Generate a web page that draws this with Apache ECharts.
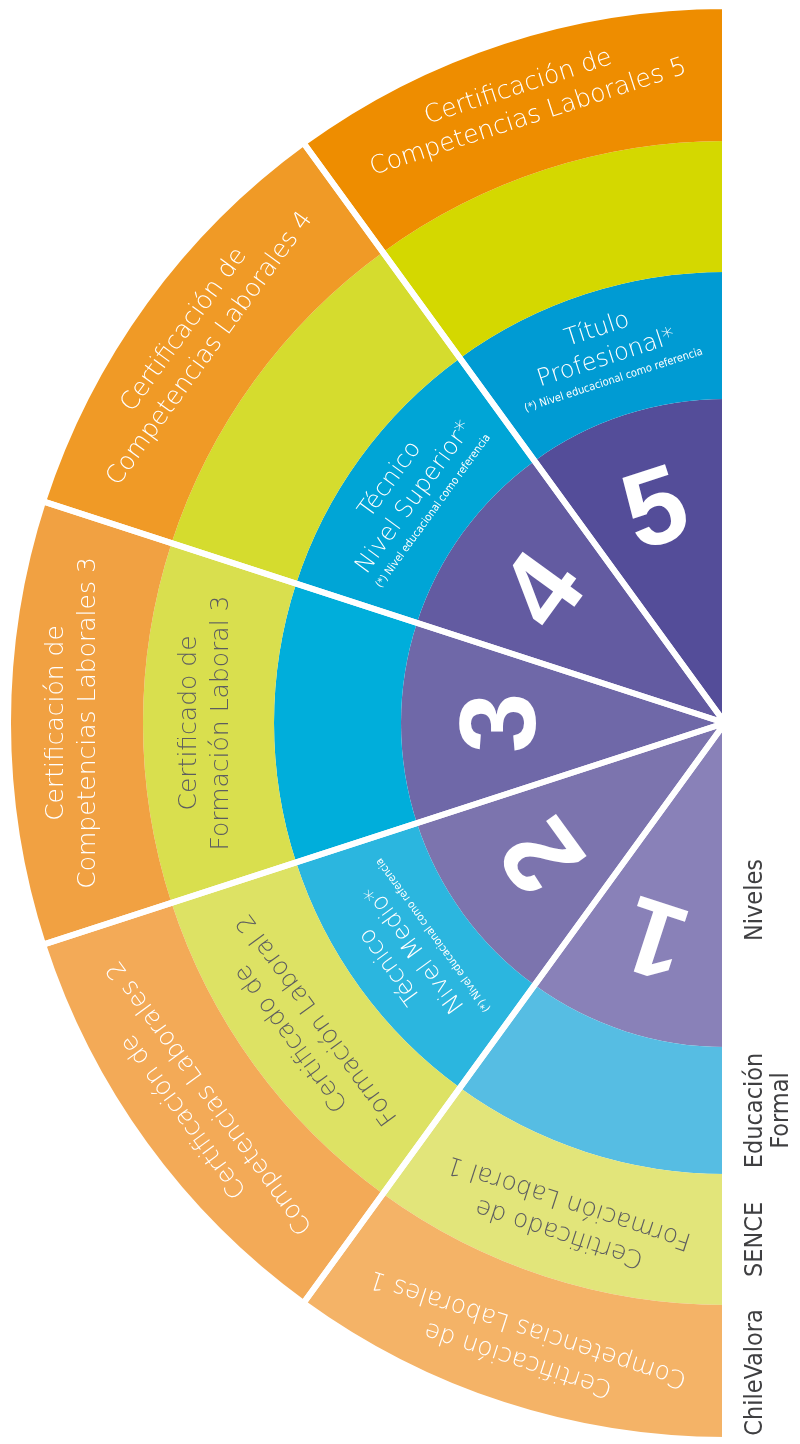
<!DOCTYPE html>
<html>
<head>
<meta charset="utf-8">
<title>Niveles de cualificación</title>
<script src="https://cdn.jsdelivr.net/npm/echarts@6/dist/echarts.min.js"></script>
<style>
  html, body { margin: 0; padding: 0; background: #fff; }
  #chart { width: 800px; height: 1444px; }
</style>
</head>
<body>
<div id="chart"></div>
<script>
// niveles, de arriba (5) hacia abajo (1)
const levels = ['5', '4', '3', '2', '1'];
// cada nivel ocupa la misma porción del semicírculo
const levelShare = [1, 1, 1, 1, 1];
// la mitad derecha queda vacía
const emptyShare = 5;

// nombres de los anillos, de adentro hacia afuera
const ringNames = ['Niveles', 'Educación\nFormal', 'SENCE', 'ChileValora'];

const formalTitles = ['Título\nProfesional*', 'Técnico\nNivel Superior*', '', 'Técnico\nNivel Medio*', ''];
const formalNote = '(*) Nivel educacional como referencia';
const senceTitles = ['', '', 'Certificado de\nFormación Laboral 3', 'Certificado de\nFormación Laboral 2', 'Certificado de\nFormación Laboral 1'];
const chileValoraTitles = [
  'Certificación de\nCompetencias Laborales 5',
  'Certificación de\nCompetencias Laborales 4',
  'Certificación de\nCompetencias Laborales 3',
  'Certificación de\nCompetencias Laborales 2',
  'Certificación de\nCompetencias Laborales 1'
];

// colores por anillo (nivel 5 -> 1)
const purple = ['#544d99', '#635ba1', '#6f68a8', '#7c74ae', '#8981b8'];
const blue = ['#009bd3', '#00a5d6', '#00aedb', '#2bb6df', '#56bde3'];
const lime = ['#d4d800', '#d5dc2e', '#d9df4e', '#dde264', '#e2e57a'];
const orange = ['#ee8d00', '#f09a26', '#f1a142', '#f3aa57', '#f4b367'];

const center = [725, 723];
const radii = [0, 324, 451, 582, 717];
const thinFont = "'DejaVu Sans ExtraLight', 'DejaVu Sans', sans-serif";
const narrowFont = "'Liberation Sans Narrow', 'DejaVu Sans Condensed', 'Roboto', sans-serif";

// giro tangencial del texto en cada tajada
const tangent = i => 18 + 36 * i;

// arma un anillo del semicírculo
function ring(name, r0, r1, colors, texts, labelStyle) {
  const data = levels.map((lv, i) => ({
    name: lv,
    value: levelShare[i],
    itemStyle: { color: colors ? colors[i] : 'transparent' },
    label: { show: !!texts[i], formatter: texts[i] || '', rotate: tangent(i) }
  }));
  data.push({
    name: '',
    value: emptyShare,
    itemStyle: { color: 'transparent' },
    label: { show: false }
  });
  return {
    type: 'pie',
    name: name,
    center: center,
    radius: [r0, r1],
    startAngle: 90,
    clockwise: false,
    silent: true,
    animation: false,
    z: colors ? 2 : 4,
    label: Object.assign({ position: 'inside' }, labelStyle || {}),
    labelLine: { show: false },
    emphasis: { disabled: true },
    data: data
  };
}

// texto con nota al pie para educación formal
const formalText = formalTitles.map(t => t
  ? t.split('\n').map(s => '{t|' + s + '}').join('\n') + '\n{n|' + formalNote + '}'
  : '');

const chart = echarts.init(document.getElementById('chart'));

const option = {
  backgroundColor: '#fff',
  series: [
    ring('Niveles', radii[0], radii[1], purple, ['', '', '', '', '']),
    ring('Educación Formal', radii[1], radii[2], blue, formalText, {
      rich: {
        t: { color: '#fff', fontFamily: thinFont, fontWeight: 200, fontSize: 24, lineHeight: 30, align: 'center' },
        n: { color: '#fff', fontFamily: narrowFont, fontSize: 11, lineHeight: 16, align: 'center' }
      }
    }),
    ring('SENCE', radii[2], radii[3], lime, senceTitles, {
      color: '#5d5d60', fontFamily: thinFont, fontWeight: 200, fontSize: 25, lineHeight: 32
    }),
    ring('ChileValora', radii[3], radii[4], orange, chileValoraTitles, {
      color: '#fff', fontFamily: thinFont, fontWeight: 200, fontSize: 25, lineHeight: 32
    }),
    // números de nivel
    ring('Nivel', 110, radii[1], null, levels, {
      color: '#fff', fontFamily: "'Liberation Sans', Arial, sans-serif", fontWeight: 900, fontSize: 108
    }),
    // líneas blancas entre niveles
    {
      type: 'pie',
      center: center,
      radius: [0, radii[4]],
      startAngle: 90,
      clockwise: false,
      silent: true,
      animation: false,
      z: 3,
      label: { show: false },
      labelLine: { show: false },
      emphasis: { disabled: true },
      itemStyle: { color: 'transparent', borderColor: '#fff', borderWidth: 6 },
      data: levelShare.map(v => ({ value: v })).concat([{ value: emptyShare }])
    }
  ],
  graphic: ringNames.map((nm, k) => ({
    type: 'text',
    x: 742,
    y: center[1] + (radii[k] + radii[k + 1]) / 2 + (k === 0 ? 15 : 0),
    rotation: Math.PI / 2,
    style: {
      text: nm,
      fill: '#3f3f41',
      fontFamily: narrowFont,
      fontSize: 25,
      lineHeight: 26,
      align: 'center',
      verticalAlign: 'top'
    }
  }))
};

chart.setOption(option);
</script>
</body>
</html>
